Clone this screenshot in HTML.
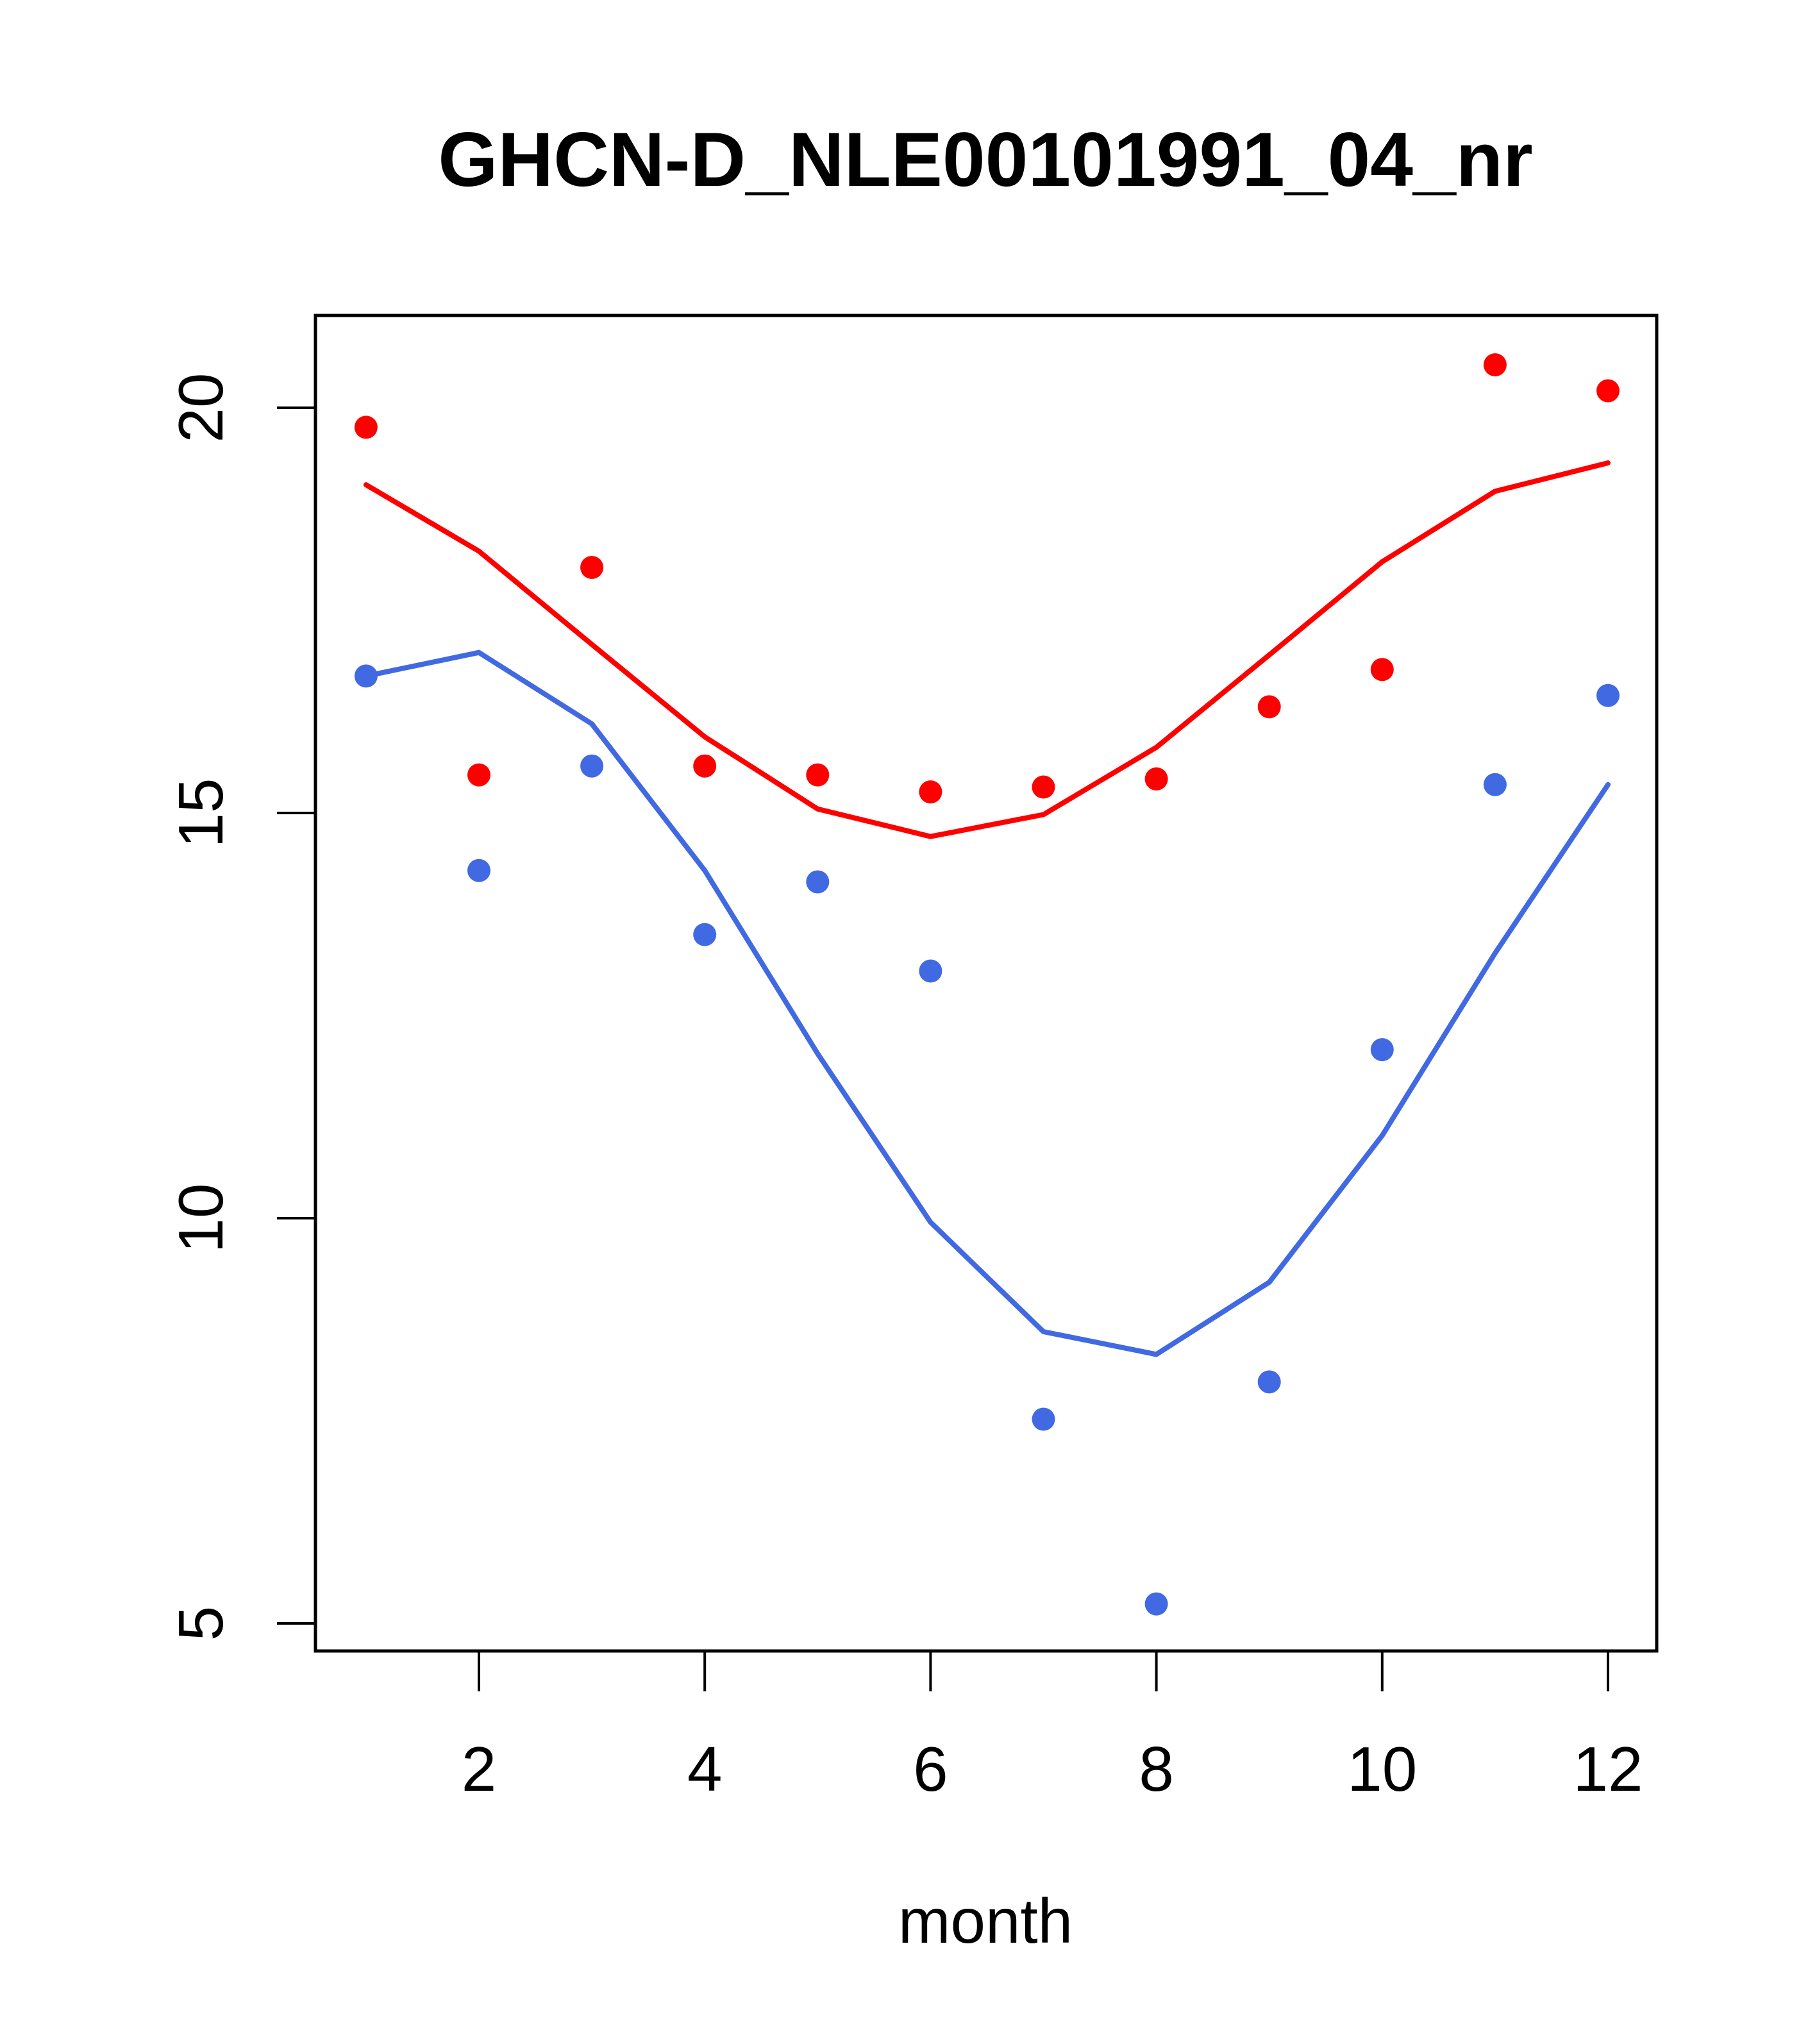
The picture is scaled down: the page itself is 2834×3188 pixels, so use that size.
<!DOCTYPE html>
<html><head><meta charset="utf-8"><style>
html,body{margin:0;padding:0;background:#fff}
svg{display:block}
text{font-family:"Liberation Sans",Arial,sans-serif}
</style></head><body>
<svg id="chart" width="2834" height="3188" viewBox="0 0 2834 3188" xmlns="http://www.w3.org/2000/svg">
<rect width="2834" height="3188" fill="#fff"/>
<text x="1537" y="290" font-size="120" font-weight="bold" text-anchor="middle">GHCN-D_NLE00101991_04_nr</text>
<text x="1537" y="3030" font-size="98" text-anchor="middle">month</text>
<g id="marks"></g>
<rect x="492" y="492" width="2092" height="2083" fill="none" stroke="#000" stroke-width="5"/>
<g id="axes"></g>
</svg>
<script>
const months=[1,2,3,4,5,6,7,8,9,10,11,12];
const redPoints=[19.76,15.47,18.03,15.58,15.47,15.26,15.32,15.42,16.31,16.77,20.53,20.21];
const redLine=[19.05,18.23,17.08,15.94,15.05,14.71,14.98,15.81,16.95,18.10,18.97,19.32];
const bluePoints=[16.69,14.29,15.58,13.5,14.15,13.05,7.52,5.24,7.98,12.08,15.35,16.45];
const blueLine=[16.69,16.98,16.1,14.29,12.03,9.95,8.6,8.32,9.21,11.02,13.27,15.35];
const xTicks=[2,4,6,8,10,12];
const yTicks=[5,10,15,20];

const NS="http://www.w3.org/2000/svg";
function X(m){return 747+(m-2)*176.1;}
function Y(v){return 636+(20-v)*126.4;}
function mk(tag,attrs,parent){const e=document.createElementNS(NS,tag);for(const k in attrs)e.setAttribute(k,attrs[k]);parent.appendChild(e);return e;}
const marks=document.getElementById('marks');
const axes=document.getElementById('axes');

function drawLine(vals,color,name){
  const d=vals.map((v,i)=>(i?'L':'M')+X(months[i]).toFixed(1)+' '+Y(v).toFixed(1)).join(' ');
  const p=mk('path',{d:d,fill:'none',stroke:color,'stroke-width':8,'stroke-linejoin':'round','stroke-linecap':'round'},marks);
  
  
}
function drawPoints(vals,color,name){
  vals.forEach((v,i)=>{
    const c=mk('circle',{cx:X(months[i]),cy:Y(v),r:18,fill:color},marks);
    
    
  });
}
drawLine(redLine,'#ff0000','red-line');
drawLine(blueLine,'#4169e1','blue-line');
drawPoints(redPoints,'#ff0000','red-point');
drawPoints(bluePoints,'#4169e1','blue-point');

xTicks.forEach(t=>{
  const l=mk('line',{x1:X(t),x2:X(t),y1:2575,y2:2638,stroke:'#000','stroke-width':4},axes);
  
  
  const tx=mk('text',{x:X(t),y:2793,'font-size':98,'text-anchor':'middle'},axes);
  tx.textContent=t;
  
  
});
yTicks.forEach(t=>{
  const l=mk('line',{x1:432,x2:492,y1:Y(t),y2:Y(t),stroke:'#000','stroke-width':4},axes);
  
  
  const tx=mk('text',{x:0,y:0,'font-size':98,'text-anchor':'middle',transform:'translate(347,'+Y(t)+') rotate(-90)'},axes);
  tx.textContent=t;
  
  
});
</script>
</body></html>
